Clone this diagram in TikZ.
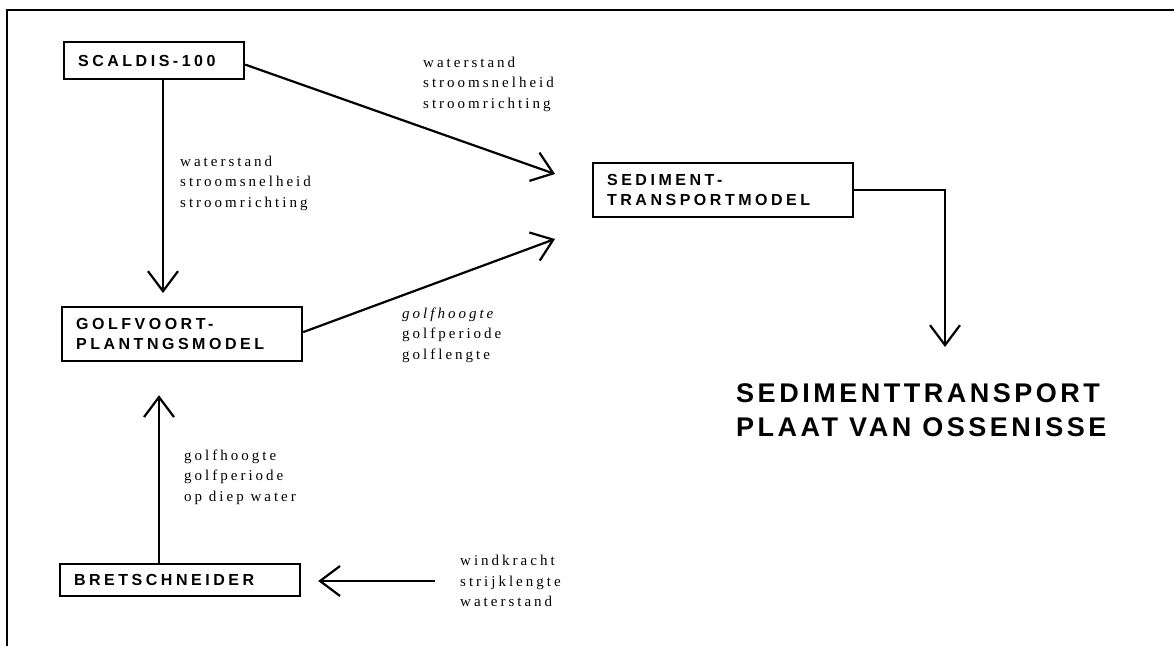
\documentclass[tikz,border=0pt]{standalone}
\usepackage{fontspec}
\usetikzlibrary{arrows.meta,calc}
\newfontfamily\boxfont{Liberation Sans}[LetterSpace=22]
\newfontfamily\lblfont{Liberation Serif}[LetterSpace=20]
\newfontfamily\bigfont{Liberation Sans}[LetterSpace=13]
\begin{document}
\begin{tikzpicture}[x=1pt,y=-1pt,
  box/.style={draw, line width=2.2pt, anchor=north west, inner xsep=14pt, inner ysep=2pt, align=left,
    font={\boxfont\bfseries\fontsize{16}{20}\selectfont}},
  lbl/.style={anchor=west, inner sep=0pt, align=left, font={\lblfont\fontsize{15}{20.5}\selectfont}},
  arr/.style={line width=2.2pt, -{Straight Barb[length=20pt,width=30pt]}},
]
\useasboundingbox (0,0) rectangle (1174,646);
\draw[line width=1.5pt] (7,646) -- (7,10) -- (1174,10);

\node[box, text width=152pt, minimum height=37pt] (scaldis) at (63,41) {SCALDIS-100};
\node[box, text width=212pt, minimum height=54pt] (golf) at (61,306) {GOLFVOORT-\\PLANTNGSMODEL};
\node[box, text width=212pt, minimum height=32pt] (bret) at (59,563) {BRETSCHNEIDER};
\node[box, text width=232pt, minimum height=54pt] (sed) at (592,162) {SEDIMENT-\\TRANSPORTMODEL};

\node[lbl] (l1) at (423,84) {waterstand\\stroomsnelheid\\stroomrichting};
\node[lbl] (l2) at (180,183) {waterstand\\stroomsnelheid\\stroomrichting};
\node[lbl] (l3) at (402,335) {{\itshape golfhoogte}\\golfperiode\\golflengte};
\node[lbl] (l4) at (184,477) {golfhoogte\\golfperiode\\op diep water};
\node[lbl] (l5) at (460,581) {windkracht\\strijklengte\\waterstand};

\node[anchor=west, inner sep=0pt, align=left, font={\bigfont\bfseries\fontsize{27}{34}\selectfont}]
  (title) at (736,410) {SEDIMENTTRANSPORT\\PLAAT VAN OSSENISSE};

\coordinate (bTip) at (555,174);
\coordinate (cTip) at (555,239);
\coordinate (fTip) at (945,347);

\draw[arr, shorten >=13pt] ($(scaldis.south west)+(100,0)$) -- ($(golf.north west)+(102,0)$);
\draw[arr] ($(scaldis.east)+(0,4)$) -- (bTip);
\draw[arr] ($(golf.east)+(0,-2)$) -- (cTip);
\draw[arr, shorten >=33pt] ($(bret.north west)+(100,0)$) -- ($(golf.south west)+(98,0)$);
\draw[arr, shorten <=25pt, shorten >=17pt] (l5.west) -- (l5.west -| bret.east);
\draw[arr] (sed.east) -| (fTip);
\end{tikzpicture}
\end{document}
